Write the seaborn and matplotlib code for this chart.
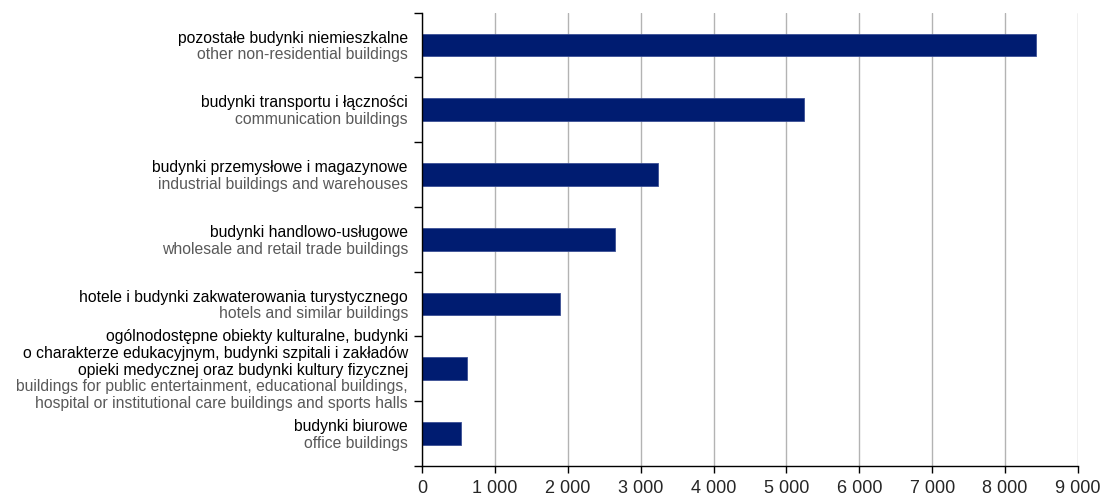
import matplotlib
matplotlib.use("Agg")
import matplotlib.pyplot as plt
import matplotlib.transforms as mtransforms
from matplotlib.ticker import FuncFormatter
import seaborn as sns
import pandas as pd

# Category labels (Polish / English)
labels_pl = [
    ["pozostałe budynki niemieszkalne"],
    ["budynki transportu i łączności"],
    ["budynki przemysłowe i magazynowe"],
    ["budynki handlowo-usługowe"],
    ["hotele i budynki zakwaterowania turystycznego"],
    ["ogólnodostępne obiekty kulturalne, budynki",
     "o charakterze edukacyjnym, budynki szpitali i zakładów",
     "opieki medycznej oraz budynki kultury fizycznej"],
    ["budynki biurowe"],
]
labels_en = [
    ["other non-residential buildings"],
    ["communication buildings"],
    ["industrial buildings and warehouses"],
    ["wholesale and retail trade buildings"],
    ["hotels and similar buildings"],
    ["buildings for public entertainment, educational buildings,",
     "hospital or institutional care buildings and sports halls"],
    ["office buildings"],
]
values = [8420, 5235, 3240, 2645, 1890, 615, 530]
x_ticks = [0, 1000, 2000, 3000, 4000, 5000, 6000, 7000, 8000, 9000]

sns.set_style("white")
plt.rcParams['font.family'] = ['Liberation Sans', 'DejaVu Sans']

df = pd.DataFrame({
    "cat": [" / ".join(p) for p in labels_pl],
    "value": values,
})

fig = plt.figure(figsize=(11.07, 4.96), dpi=100)
ax = fig.add_axes([0.3812, 0.0611, 0.5926, 0.9133])

sns.barplot(data=df, x="value", y="cat", orient="h", color="#001c71",
            width=0.35, saturation=1, edgecolor="#3b4f95", linewidth=0.6, ax=ax)

ax.set_xlim(0, 9000)
ax.set_ylim(len(values) - 0.5, -0.5)
ax.set_xticks(x_ticks)
ax.xaxis.set_major_formatter(FuncFormatter(lambda v, p: f"{int(v):,}".replace(",", " ")))
ax.set_yticks([i - 0.5 for i in range(len(values) + 1)])
ax.set_yticklabels([])
ax.set_xlabel("")
ax.set_ylabel("")

ax.grid(axis="x", color="#b3b3b3", linewidth=1)
ax.set_axisbelow(True)
for s in ["top", "right"]:
    ax.spines[s].set_visible(False)
for s in ["left", "bottom"]:
    ax.spines[s].set_color("black")
    ax.spines[s].set_linewidth(1)
ax.tick_params(axis="y", left=True, length=6, width=1, color="black", direction="out")
ax.tick_params(axis="x", bottom=True, length=5, width=1, color="black",
               direction="out", labelsize=13, pad=5)

# two-colour category labels
trans = mtransforms.blended_transform_factory(ax.transAxes, ax.transData)
line_h = 16.7
for i, (pl, en) in enumerate(zip(labels_pl, labels_en)):
    lines = [(t, "#000000") for t in pl] + [(t, "#595959") for t in en]
    n = len(lines)
    for j, (t, c) in enumerate(lines):
        ax.annotate(t, xy=(0, i), xycoords=trans,
                    xytext=(-14, ((n - 1) / 2 - j) * line_h), textcoords="offset pixels",
                    ha="right", va="center_baseline", fontsize=11.3, color=c)

fig.savefig("out.png", dpi=100)
